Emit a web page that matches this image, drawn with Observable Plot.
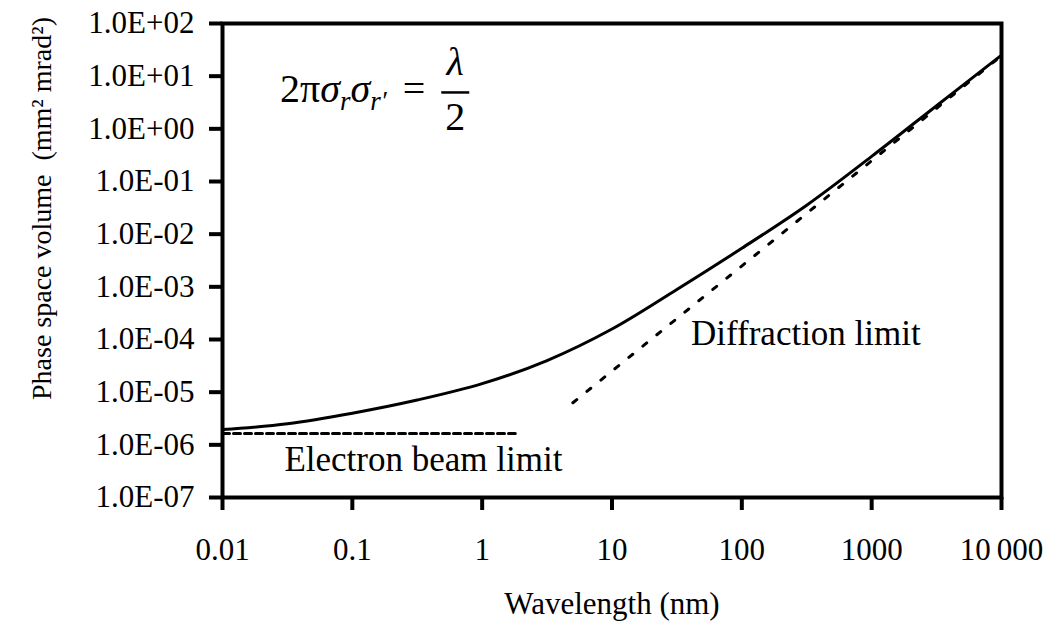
<!DOCTYPE html>
<html>
<head>
<meta charset="utf-8">
<script src="https://cdn.jsdelivr.net/npm/d3@7"></script>
<script src="https://cdn.jsdelivr.net/npm/@observablehq/plot@0.6"></script>
<style>
  html, body { margin: 0; padding: 0; background: #fff; }
  #chart { width: 1048px; height: 624px; }
</style>
</head>
<body>
<div id="chart"></div>
<script>
// ---- Data ----
const wavelength = [0.01, 0.0316, 0.1, 0.316, 1, 3.16, 10, 31.6, 100, 316, 1000, 3162, 10000];
const phaseVolume = [1.95e-6, 2.51e-6, 3.98e-6, 7.08e-6, 1.45e-5, 3.98e-5, 1.58e-4, 8.9e-4, 5.4e-3, 3.55e-2, 0.30, 2.75, 25.1];

const electronBeamWavelength = [0.01, 1.8];
const electronBeamVolume = [1.64e-6, 1.64e-6];

const diffractionWavelength = [5, 10000];
const diffractionVolume = [6.3e-6, 24.5];

const xTicks = [0.01, 0.1, 1, 10, 100, 1000, 10000];
const xTickLabels = ["0.01", "0.1", "1", "10", "100", "1000", "10\u2009000"];
const yTicks = [1e-7, 1e-6, 1e-5, 1e-4, 1e-3, 1e-2, 1e-1, 1, 10, 100];
const yTickLabels = ["1.0E-07", "1.0E-06", "1.0E-05", "1.0E-04", "1.0E-03", "1.0E-02", "1.0E-01", "1.0E+00", "1.0E+01", "1.0E+02"];

const annotationLabels = ["Electron beam limit", "Diffraction limit"];
const annotationX = [0.030, 40.6];
const annotationY = [3.2e-7, 7.7e-5];

const xTitle = "Wavelength (nm)";
const yTitle = "Phase space volume  (mm\u00B2 mrad\u00B2)";

// ---- Build tables ----
const curve = wavelength.map((w, i) => ({w, v: phaseVolume[i]}));
const ebLine = electronBeamWavelength.map((w, i) => ({w, v: electronBeamVolume[i]}));
const diffLine = diffractionWavelength.map((w, i) => ({w, v: diffractionVolume[i]}));
const annotations = annotationLabels.map((t, i) => ({t, x: annotationX[i], y: annotationY[i]}));
const xLab = new Map(xTicks.map((d, i) => [d, xTickLabels[i]]));
const yLab = new Map(yTicks.map((d, i) => [d, yTickLabels[i]]));

const font = "'Liberation Serif', 'Times New Roman', serif";

const plot = Plot.plot({
  width: 1048,
  height: 624,
  marginLeft: 222,
  marginRight: 47,
  marginTop: 23,
  marginBottom: 127,
  style: {fontFamily: font, fontSize: "31px", background: "#fff", color: "#000", overflow: "visible"},
  x: {type: "log", domain: [0.01, 10000]},
  y: {type: "log", domain: [1e-7, 100]},
  marks: [
    Plot.line(ebLine, {x: "w", y: "v", stroke: "#000", strokeWidth: 3, strokeDasharray: "7,4"}),
    Plot.line(diffLine, {x: "w", y: "v", stroke: "#000", strokeWidth: 3, strokeDasharray: "5,13"}),
    Plot.line(curve, {x: "w", y: "v", stroke: "#000", strokeWidth: 3, curve: "catmull-rom"}),
    Plot.frame({stroke: "#000", strokeWidth: 4}),
    Plot.axisY({ticks: yTicks, tickFormat: d => yLab.get(d), tickSize: 13, tickPadding: 15, strokeWidth: 4, label: null, fontSize: 31}),
    Plot.axisX({ticks: xTicks, tickFormat: d => xLab.get(d), tickSize: 13, tickPadding: 27, strokeWidth: 4, label: null, fontSize: 31}),
    Plot.text([yTitle], {text: d => d, frameAnchor: "left", textAnchor: "middle", rotate: -90, dx: -180, dy: -52, fontSize: 28}),
    Plot.text([xTitle], {text: d => d, frameAnchor: "bottom", dy: 116, lineAnchor: "bottom", fontSize: 31}),
    Plot.text(annotations, {x: "x", y: "y", text: "t", textAnchor: "start", lineAnchor: "bottom", fontSize: 35})
  ]
});

document.getElementById("chart").appendChild(plot);

// ---- Equation annotation (real text with sub/superscripts) ----
const xs = plot.scale("x"), ys = plot.scale("y");
const x0 = xs.apply(0.028), y0 = ys.apply(3.1);
const svg = d3.select(plot);
const g = svg.append("g").attr("font-family", font).attr("fill", "#000");
const t = g.append("text").attr("x", x0).attr("y", y0).attr("font-size", 40).attr("text-anchor", "start");
t.append("tspan").text("2\u03C0");
t.append("tspan").attr("font-style", "italic").text("\u03C3");
t.append("tspan").attr("font-style", "italic").attr("font-size", 27).attr("dy", 8).text("r");
t.append("tspan").attr("font-style", "italic").attr("dy", -8).text("\u03C3");
t.append("tspan").attr("font-style", "italic").attr("font-size", 27).attr("dy", 8).text("r\u2032");
t.append("tspan").attr("dy", -8).text("\u2009\u2009=");
const endX = x0 + t.node().getComputedTextLength();
const fx = endX + 30;
g.append("text").attr("x", fx).attr("y", y0 - 27).attr("text-anchor", "middle").attr("font-size", 40).attr("font-style", "italic").text("\u03BB");
g.append("line").attr("x1", fx - 14).attr("x2", fx + 14).attr("y1", y0 - 10).attr("y2", y0 - 10).attr("stroke", "#000").attr("stroke-width", 2.5);
g.append("text").attr("x", fx).attr("y", y0 + 28).attr("text-anchor", "middle").attr("font-size", 40).text("2");
</script>
</body>
</html>
